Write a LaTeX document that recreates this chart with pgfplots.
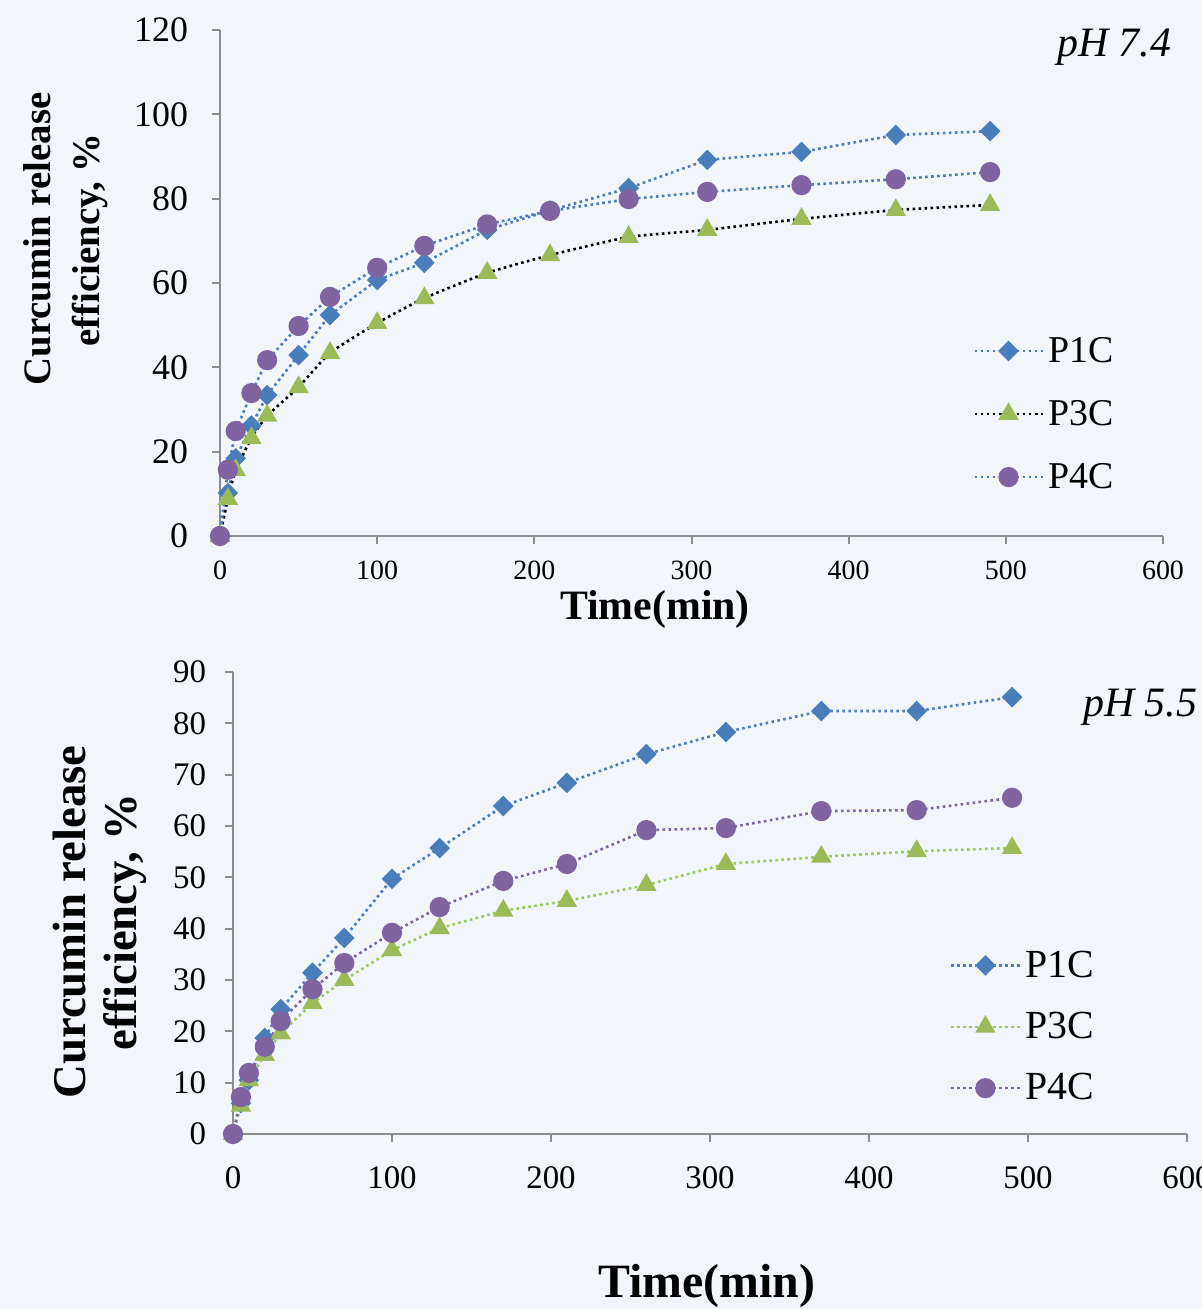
\documentclass[border=0pt]{standalone}
\usepackage{fontspec}
\setmainfont{Liberation Serif}
\usepackage{pgfplots}
\usepackage{pgfplotstable}
\pgfplotsset{compat=1.18}

\definecolor{bg}{HTML}{F2F5FA}
\definecolor{pblue}{HTML}{4A7EBB}
\definecolor{pgreen}{HTML}{9BBB59}
\definecolor{lgreen}{HTML}{95CC5A}
\definecolor{ppurple}{HTML}{8064A2}
\definecolor{axgray}{HTML}{8C8C8C}

% time (min), release efficiency (%)
\pgfplotstableread{
t   pa    pb    pc
0   0     0     0
5   10.2  8.8   15.7
10  18.4  15.6  24.9
20  26.2  23.2  33.9
30  33.4  28.5  41.7
50  42.9  35.3  49.8
70  52.4  43.4  56.7
100 60.7  50.5  63.6
130 64.8  56.4  68.8
170 72.6  62.4  73.9
210 77.2  66.6  77.1
260 82.5  70.9  79.9
310 89.2  72.6  81.6
370 91.1  75.2  83.2
430 95.1  77.3  84.6
490 96.0  78.5  86.3
}\phseven

\pgfplotstableread{
t   pa    pb    pc
0   0     0     0
5   6.0   5.5   7.2
10  10.5  10.5  11.9
20  18.7  15.4  17.0
30  24.3  19.6  22.0
50  31.4  25.5  28.2
70  38.2  30.0  33.3
100 49.7  35.8  39.2
130 55.7  40.1  44.2
170 63.9  43.5  49.3
210 68.4  45.4  52.6
260 74.0  48.5  59.2
310 78.3  52.6  59.6
370 82.4  54.0  62.9
430 82.4  55.1  63.1
490 85.1  55.7  65.5
}\phfive

\pgfplotsset{
  relcurve/.style={
    scale only axis,
    xmin=0, xmax=600,
    xtick={0,100,...,600},
    axis lines=left,
    axis line style={-, axgray, line width=1bp},
    tick style={axgray, line width=1bp},
    major tick length=4bp,
    tick align=outside,
    /pgf/number format/assume math mode=true,
    legend cell align=left,
    legend image code/.code={
      \draw[mark repeat=2,mark phase=2] plot coordinates {(0bp,0bp) (17bp,0bp) (34.5bp,0bp)};
    },
  },
  dots/.style={line width=1.3bp, dash pattern=on 1.3bp off 1.7bp},
  s1/.style={dots, mark=square*, mark size=3bp,
    mark options={solid, rotate=45, draw=pblue, fill=pblue}},
  s3/.style={dots, mark=triangle*, mark size=4.6bp,
    mark options={solid, draw=pgreen, fill=pgreen}},
  s4/.style={dots, mark=*, mark size=4.4bp,
    mark options={solid, draw=ppurple, fill=ppurple}},
}

\begin{document}
\begin{tikzpicture}
\useasboundingbox (0,0) rectangle (601bp,654.5bp);
\clip (0,0) rectangle (601bp,654.5bp);
\fill[bg] (0,0) rectangle (601bp,654.5bp);

\begin{axis}[relcurve,
  at={(110bp,386.5bp)}, anchor=south west,
  width=471.5bp, height=253bp,
  ymin=0, ymax=120, ytick={0,20,...,120},
  xticklabel style={font=\fontsize{14}{14}\selectfont, yshift=-5bp},
  yticklabel style={font=\fontsize{18}{18}\selectfont, xshift=-8.5bp},
  legend style={draw=none, fill=none, at={(0.792,0.241)}, anchor=west,
    font=\fontsize{19}{19}\selectfont, row sep=13.5bp},
]
\addplot[s1, color=pblue] table[x=t, y=pa] {\phseven};
\addlegendentry{P1C}
\addplot[s3, color=black, smooth, tension=0.3] table[x=t, y=pb] {\phseven};
\addlegendentry{P3C}
\addplot[s4, color=pblue] table[x=t, y=pc] {\phseven};
\addlegendentry{P4C}
\end{axis}

\begin{axis}[relcurve,
  at={(116.5bp,87.5bp)}, anchor=south west,
  width=477bp, height=231bp,
  ymin=0, ymax=90, ytick={0,10,...,90},
  xticklabel style={font=\fontsize{16.5}{16.5}\selectfont, yshift=-9bp},
  yticklabel style={font=\fontsize{16.5}{16.5}\selectfont, xshift=-6bp},
  legend style={draw=none, fill=none, at={(0.745,0.232)}, anchor=west,
    font=\fontsize{20}{20}\selectfont, row sep=12bp},
]
\addplot[s1, color=pblue] table[x=t, y=pa] {\phfive};
\addlegendentry{P1C}
\addplot[s3, color=lgreen] table[x=t, y=pb] {\phfive};
\addlegendentry{P3C}
\addplot[s4, color=ppurple] table[x=t, y=pc] {\phfive};
\addlegendentry{P4C}
\end{axis}

\begin{scope}[x=0.5bp, y=-0.5bp, shift={(0,654.5bp)}]
  \node[font=\fontsize{19.5}{19.5}\selectfont\bfseries, rotate=90] at (37,239) {Curcumin release};
  \node[font=\fontsize{19.5}{19.5}\selectfont\bfseries, rotate=90] at (90,240) {efficiency, \%};
  \node[font=\fontsize{21}{21}\selectfont\bfseries, anchor=base] at (655,620) {Time(min)};
  \node[font=\fontsize{21}{21}\selectfont\itshape, anchor=base west, inner sep=0pt] at (1057,57) {pH 7.4};

  \node[font=\fontsize{23.5}{23.5}\selectfont\bfseries, rotate=90] at (70,922) {Curcumin release};
  \node[font=\fontsize{23.5}{23.5}\selectfont\bfseries, rotate=90] at (125,922) {efficiency, \%};
  \node[font=\fontsize{24}{24}\selectfont\bfseries, anchor=base] at (707,1298) {Time(min)};
  \node[font=\fontsize{21}{21}\selectfont\itshape, anchor=base west, inner sep=0pt] at (1083,717) {pH 5.5};
\end{scope}
\end{tikzpicture}
\end{document}
